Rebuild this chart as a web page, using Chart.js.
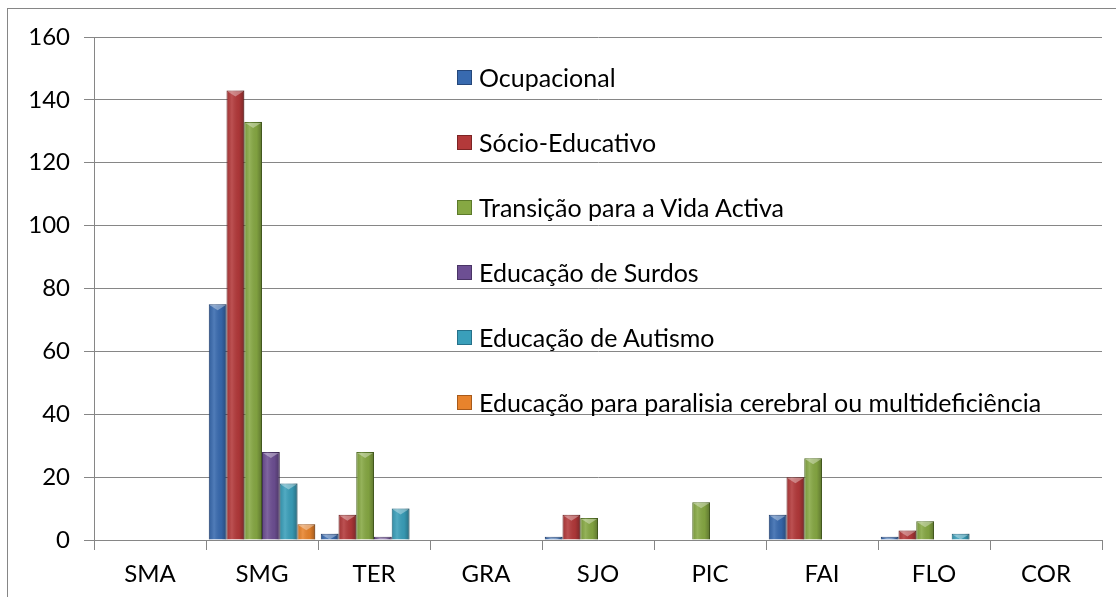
<!DOCTYPE html>
<html>
<head>
<meta charset="utf-8">
<script src="https://cdn.jsdelivr.net/npm/chart.js@4/dist/chart.umd.min.js"></script>
<style>
  html, body { margin: 0; padding: 0; background: #fff; }
  #wrap { position: relative; width: 1116px; height: 597px; overflow: hidden; }
  #frame { position: absolute; left: 7px; top: 8px; width: 1130px; height: 620px; border: 1px solid #868686; box-sizing: border-box; }
  #chart { position: absolute; left: 0; top: 0; }
  #legend { position: absolute; left: 457px; top: 62px; font-family: Lato, "Open Sans", sans-serif; font-size: 25px; line-height: 30px; color: #000; }
  .item { height: 65px; display: flex; align-items: flex-start; }
  .box { width: 15px; height: 15px; margin: 8px 7px 0 0; box-sizing: border-box; }
</style>
</head>
<body>
<div id="wrap">
  <div id="frame"></div>
  <canvas id="chart" width="1116" height="597"></canvas>
  <div id="legend"></div>
</div>
<script>
// --- DATA ---
const categories = ['SMA', 'SMG', 'TER', 'GRA', 'SJO', 'PIC', 'FAI', 'FLO', 'COR'];
const seriesNames = [
  'Ocupacional',
  'Sócio-Educativo',
  'Transição para a Vida Activa',
  'Educação de Surdos',
  'Educação de Autismo',
  'Educação para paralisia cerebral ou multideficiência'
];
const ocupacional    = [0, 75, 2, 0, 1, 0, 8, 1, 0];
const socioEducativo = [0, 143, 8, 0, 8, 0, 20, 3, 0];
const transicao      = [0, 133, 28, 0, 7, 12, 26, 6, 0];
const surdos         = [0, 28, 1, 0, 0, 0, 0, 0, 0];
const autismo        = [0, 18, 10, 0, 0, 0, 0, 2, 0];
const paralisia      = [0, 5, 0, 0, 0, 0, 0, 0, 0];
const yTicks = [0, 20, 40, 60, 80, 100, 120, 140, 160];

const colors = ['#386aaf', '#b3393a', '#86a843', '#6d4f93', '#3a9fba', '#e8832c'];
const borders = ['#25477a', '#7d2424', '#5c7a2a', '#4a3466', '#26718a', '#a85a1a'];

const seriesData = [ocupacional, socioEducativo, transicao, surdos, autismo, paralisia];

// --- 3D LOOK ---
const bevelPlugin = {
    id: 'bevel',
    afterDatasetsDraw(chart) {
        const ctx = chart.ctx;
        chart.data.datasets.forEach((ds, di) => {
            chart.getDatasetMeta(di).data.forEach(bar => {
                const h = bar.base - bar.y;
                if (h < 0.5) return;
                const left = bar.x - bar.width / 2;
                const right = bar.x + bar.width / 2;
                ctx.save();
                const g = ctx.createLinearGradient(left, 0, right, 0);
                g.addColorStop(0, 'rgba(0,0,0,0.10)');
                g.addColorStop(0.3, 'rgba(255,255,255,0.12)');
                g.addColorStop(0.7, 'rgba(0,0,0,0.05)');
                g.addColorStop(1, 'rgba(0,0,0,0.30)');
                ctx.fillStyle = g;
                ctx.fillRect(left, bar.y, bar.width, h);
                const d = Math.min(6, h);
                ctx.beginPath();
                ctx.moveTo(left + 1, bar.y + 1);
                ctx.lineTo(right - 1, bar.y + 1);
                ctx.lineTo(bar.x, bar.y + d);
                ctx.closePath();
                ctx.fillStyle = 'rgba(255,255,255,0.35)';
                ctx.fill();
                ctx.restore();
            });
        });
    }
};

const font = { family: 'Lato, "Open Sans", sans-serif', size: 24 };

const chart = new Chart(document.getElementById('chart'), {
    type: 'bar',
    data: {
        labels: categories,
        datasets: seriesNames.map((name, i) => ({
            label: name,
            data: seriesData[i],
            backgroundColor: colors[i],
            borderColor: borders[i],
            borderWidth: 1,
            categoryPercentage: 0.95,
            barPercentage: 1.0
        }))
    },
    options: {
        responsive: false,
        animation: false,
        layout: { padding: { top: 37, right: 14, left: 0, bottom: 0 } },
        plugins: { legend: { display: false }, tooltip: { enabled: false } },
        scales: {
            x: {
                grid: { display: true, drawOnChartArea: false, color: '#868686', tickLength: 10 },
                border: { color: '#868686' },
                ticks: { color: '#000', font, padding: 10 },
                afterFit(scale) { scale.height = 57; }
            },
            y: {
                min: 0,
                max: 160,
                afterBuildTicks(scale) { scale.ticks = yTicks.map(v => ({ value: v })); },
                grid: { color: '#868686', tickLength: 10 },
                border: { color: '#868686' },
                ticks: { color: '#000', font, padding: 14 },
                afterFit(scale) { scale.width = 94; }
            }
        }
    },
    plugins: [bevelPlugin]
});

// --- LEGEND ---
const legendEl = document.getElementById('legend');
seriesNames.forEach((name, i) => {
    legendEl.innerHTML += `<div class="item"><span class="box" style="background:${colors[i]};border:1px solid ${borders[i]}"></span><span>${name}</span></div>`;
});
</script>
</body>
</html>
